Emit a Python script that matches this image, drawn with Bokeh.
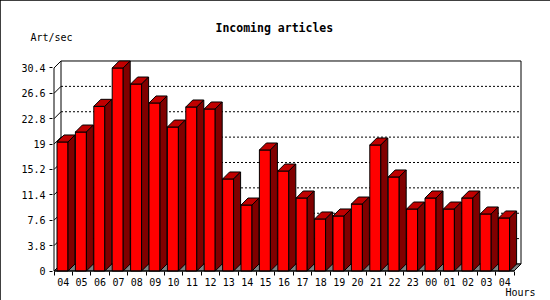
from bokeh.plotting import figure
from bokeh.models import (Range1d, FixedTicker, CustomJSTickFormatter, Title,
                          ColumnDataSource)
from bokeh.embed import file_html
from bokeh.resources import INLINE

# ---- data ----
hours = ["04", "05", "06", "07", "08", "09", "10", "11", "12", "13", "14", "15",
         "16", "17", "18", "19", "20", "21", "22", "23", "00", "01", "02", "03", "04"]
rates = [19.32, 20.81, 24.66, 30.4, 28.0, 25.16, 21.56, 24.56, 24.26, 13.78,
         9.88, 18.12, 14.97, 10.93, 7.79, 8.24, 10.03, 18.87, 14.08, 9.28,
         10.93, 9.28, 10.93, 8.54, 7.94]
y_ticks = [0, 3.8, 7.6, 11.4, 15.2, 19, 22.8, 26.6, 30.4]
y_tick_labels = ["0", "3.8", "7.6", "11.4", "15.2", "19", "22.8", "26.6", "30.4"]
title_text = "Incoming articles"
y_unit = "Art/sec"
x_unit = "Hours"

# ---- geometry (pixels per unit) ----
PXX = 18.4
PXY = 6.678
DX = 7 / PXX
DY = 7 / PXY
OFF = 3 / PXX
W = 11 / PXX
n = len(hours)
ymax = y_ticks[-1]

MONO = "DejaVu Sans Mono"

p = figure(width=550, height=300,
           x_range=Range1d((52 - 53.5) / PXX, (522 - 53.5) / PXX),
           y_range=Range1d((270.5 - 272) / PXY, (270.5 - 59) / PXY),
           min_border_left=52, min_border_right=28,
           min_border_top=59, min_border_bottom=28,
           output_backend="svg", toolbar_location=None)
p.outline_line_color = None
p.xgrid.visible = False
p.ygrid.visible = False
p.background_fill_color = "white"
p.border_fill_color = "white"
p.styles = {"outline": "1px solid black", "outline-offset": "-1px"}

# titles / unit labels
p.title.text = title_text
p.title.align = "left"
p.title.offset = 163
p.title.vertical_align = "bottom"
p.title.text_font = MONO
p.title.text_font_style = "bold"
p.title.text_font_size = "11.5px"
p.title.text_color = "black"
try:
    p.title.standoff = -44
except Exception:
    p.title.standoff = 0
p.add_layout(Title(text=y_unit, align="left", offset=-22, text_font=MONO,
                   vertical_align="bottom",
                   text_font_style="normal", text_font_size="10px",
                   text_color="black", standoff=34), "above")
hours_title = Title(text=x_unit, align="left", offset=453, text_font=MONO,
                    vertical_align="top",
                    text_font_style="normal", text_font_size="10px",
                    text_color="black", standoff=0)
try:
    hours_title.standoff = -4
except Exception:
    pass
p.add_layout(hours_title, "below")

# back wall
p.quad(left=[DX], right=[n + DX], bottom=[DY], top=[ymax + DY],
       fill_color="white", line_color="black", line_width=1)
# dotted gridlines on back wall
gy = [t + DY for t in y_ticks[1:-1]]
p.segment(x0=[DX] * len(gy), y0=gy, x1=[n + DX] * len(gy), y1=gy,
          line_color="black", line_width=1, line_dash="2 2")
# connectors from front axis to back wall
p.segment(x0=[0] * len(y_ticks[:-1]), y0=y_ticks[:-1],
          x1=[DX] * len(y_ticks[:-1]), y1=[t + DY for t in y_ticks[:-1]],
          line_color="black", line_width=1)
# floor
p.patch([0, n, n + DX, DX], [0, 0, DY, DY], fill_color="#808080",
        line_color="black", line_width=1)

# bars: front, top, side faces
xs, ys, cols = [], [], []
for i, v in enumerate(rates):
    L = i + OFF
    R = L + W
    xs.append([L, R, R, L]); ys.append([0, 0, v, v]); cols.append("#ff0000")
    xs.append([L, R, R + DX, L + DX]); ys.append([v, v, v + DY, v + DY]); cols.append("#c00000")
    xs.append([R, R + DX, R + DX, R]); ys.append([0, DY, v + DY, v]); cols.append("#800000")
src = ColumnDataSource(dict(xs=xs, ys=ys, c=cols))
p.patches("xs", "ys", source=src, fill_color="c", line_color="black", line_width=1)

# front axis lines
p.line([0, 0, DX], [0, ymax, ymax + DY], line_color="black", line_width=1)
p.line([0, n, n + DX], [0, 0, DY], line_color="black", line_width=1)

# axes
xa = p.xaxis[0]
xa.ticker = FixedTicker(ticks=[i + 0.5 for i in range(n)], minor_ticks=list(range(n + 1)))
xa.formatter = CustomJSTickFormatter(args=dict(hour_labels=hours),
                                     code="return hour_labels[Math.floor(tick)]")
xa.axis_line_color = None
xa.major_tick_line_color = None
xa.major_tick_out = 0
xa.major_tick_in = 0
xa.minor_tick_line_color = "black"
xa.minor_tick_in = 1
xa.minor_tick_out = 3
xa.major_label_standoff = 2
xa.major_label_text_font = MONO
xa.major_label_text_font_size = "10px"
xa.major_label_text_color = "black"

ya = p.yaxis[0]
ya.ticker = FixedTicker(ticks=y_ticks)
ya.formatter = CustomJSTickFormatter(args=dict(ylabels=y_tick_labels, yvals=y_ticks),
                                     code="return ylabels[yvals.indexOf(tick)]")
ya.axis_line_color = None
ya.major_tick_line_color = "black"
ya.major_tick_out = 3
ya.major_tick_in = 0
ya.minor_tick_line_color = None
ya.major_label_standoff = 4
ya.major_label_text_font = MONO
ya.major_label_text_font_size = "10px"
ya.major_label_text_color = "black"

open("out.html", "w").write(file_html(p, INLINE))
